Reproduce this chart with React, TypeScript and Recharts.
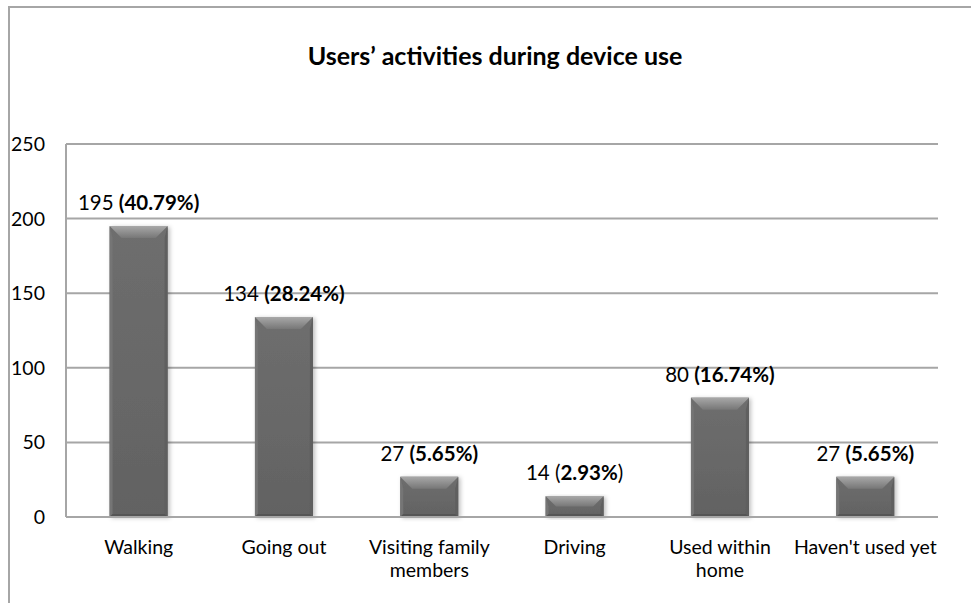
import { BarChart, Bar, XAxis, YAxis, CartesianGrid, LabelList } from 'recharts';

// activities reported by users while wearing the device
const activities = [
  'Walking',
  'Going out',
  'Visiting family\nmembers',
  'Driving',
  'Used within\nhome',
  "Haven't used yet",
];
const userCounts = [195, 134, 27, 14, 80, 27];
const userShares = ['40.79%', '28.24%', '5.65%', '2.93%', '16.74%', '5.65%'];
// the Driving label keeps its brackets in regular weight
const boldBrackets = [true, true, true, false, true, true];
const yTicks = [0, 50, 100, 150, 200, 250];

const chartData = activities.map((name, i) => ({
  name,
  users: userCounts[i],
  share: userShares[i],
  boldBrackets: boldBrackets[i],
}));

const FONT = 'Lato, "Open Sans", sans-serif';
const GRID = '#a6a6a6';

const BevelBar = (props: any) => {
  const { x, y, width, height } = props;
  if (!height || height <= 0) return null;
  const b = Math.min(12, height / 2);
  const s = Math.min(3, width / 4);
  return (
    <g filter="url(#barShadow)">
      <rect x={x} y={y} width={width} height={height} fill="url(#barBody)" />
      <polygon
        points={`${x},${y} ${x + width},${y} ${x + width - b},${y + b} ${x + b},${y + b}`}
        fill="url(#barTop)"
      />
      <polygon
        points={`${x},${y} ${x + s},${y + b} ${x + s},${y + height - s} ${x},${y + height}`}
        fill="#747474"
      />
      <polygon
        points={`${x + width},${y} ${x + width - s},${y + b} ${x + width - s},${y + height - s} ${x + width},${y + height}`}
        fill="#5e5e5e"
      />
      <polygon
        points={`${x},${y + height} ${x + s},${y + height - s} ${x + width - s},${y + height - s} ${x + width},${y + height}`}
        fill="#555555"
      />
    </g>
  );
};

const ValueLabel = (props: any) => {
  const { x, y, width, index } = props;
  const row = chartData[index];
  const cx = x + width / 2;
  return (
    <text x={cx} y={y - 24} textAnchor="middle" dominantBaseline="central" fontFamily={FONT} fontSize={20.5} fill="#000">
      <tspan>{row.users} </tspan>
      {row.boldBrackets ? (
        <tspan fontWeight="bold">({row.share})</tspan>
      ) : (
        <>
          <tspan>(</tspan>
          <tspan fontWeight="bold">{row.share}</tspan>
          <tspan>)</tspan>
        </>
      )}
    </text>
  );
};

const CategoryTick = (props: any) => {
  const { x, y, payload } = props;
  const lines = String(payload.value).split('\n');
  return (
    <text x={x} y={y} textAnchor="middle" fontFamily={FONT} fontSize={19.5} fill="#000">
      {lines.map((line, i) => (
        <tspan key={i} x={x} dy={i === 0 ? 29 : 23}>
          {line}
        </tspan>
      ))}
    </text>
  );
};

const App = () => {
  return (
    <div style={{ position: 'absolute', left: 0, top: 0, width: 971, height: 603, background: '#fff' }}>
      <div
        style={{
          position: 'absolute',
          left: 8,
          top: 6,
          right: 0,
          bottom: 0,
          borderTop: `2px solid ${GRID}`,
          borderLeft: `2px solid ${GRID}`,
        }}
      />
      <div
        style={{
          position: 'absolute',
          left: 0,
          width: 990,
          top: 39,
          textAlign: 'center',
          fontFamily: FONT,
          fontWeight: 'bold',
          fontSize: 25,
          lineHeight: '32px',
        }}
      >
        Users’ activities during device use
      </div>
      <BarChart
        width={971}
        height={603}
        data={chartData}
        margin={{ top: 144, right: 33, bottom: 0, left: 16 }}
        barCategoryGap="30%"
        style={{ position: 'absolute', left: 0, top: 0 }}
      >
        <defs>
          <linearGradient id="barBody" x1="0" y1="0" x2="0" y2="1">
            <stop offset="0%" stopColor="#6e6e6e" />
            <stop offset="100%" stopColor="#626262" />
          </linearGradient>
          <linearGradient id="barTop" x1="0" y1="0" x2="0" y2="1">
            <stop offset="0%" stopColor="#a8a8a8" />
            <stop offset="100%" stopColor="#777777" />
          </linearGradient>
          <filter id="barShadow" x="-10%" y="-10%" width="125%" height="120%">
            <feDropShadow dx="2" dy="1" stdDeviation="2" floodColor="#000" floodOpacity="0.25" />
          </filter>
        </defs>
        <CartesianGrid vertical={false} stroke={GRID} strokeWidth={2} />
        <XAxis
          dataKey="name"
          axisLine={{ stroke: GRID, strokeWidth: 2 }}
          tickLine={false}
          tick={<CategoryTick />}
          interval={0}
          height={86}
        />
        <YAxis
          width={50}
          domain={[0, 250]}
          ticks={yTicks}
          axisLine={{ stroke: GRID, strokeWidth: 2 }}
          tickLine={false}
          tickSize={0}
          tickMargin={21}
          tick={{ fontFamily: FONT, fontSize: 19.5, fill: '#000' }}
        />
        <Bar dataKey="users" shape={<BevelBar />} isAnimationActive={false}>
          <LabelList dataKey="users" content={<ValueLabel />} />
        </Bar>
      </BarChart>
    </div>
  );
};

export default App;
